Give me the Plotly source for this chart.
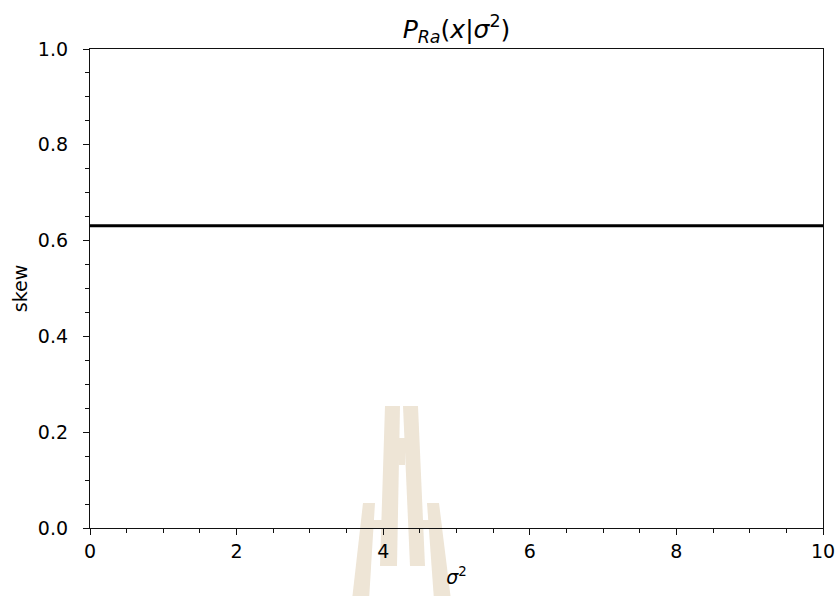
import plotly.graph_objects as go

# ---- data ----
sigma2 = [0.0, 2.0, 4.0, 6.0, 8.0, 10.0]
skew = [0.631, 0.631, 0.631, 0.631, 0.631, 0.631]
x_ticks = [0, 2, 4, 6, 8, 10]
y_ticks = [0.0, 0.2, 0.4, 0.6, 0.8, 1.0]

W, H = 839, 596
L, R, T, B = 90, 16, 49, 68
PW, PH = W - L - R, H - T - B

def px(x):
    return (x - L) / PW

def py(y):
    return (H - B - y) / PH

# decorative watermark polygons (pixel coords)
wm_polys = [
    [(385, 406), (400, 406), (397, 566), (380, 566)],
    [(403, 406), (418, 406), (425, 566), (410, 566)],
    [(399, 438), (405, 438), (405, 465), (399, 465)],
    [(363, 503), (375, 503), (369, 600), (352, 600)],
    [(427, 503), (439, 503), (451, 600), (434, 600)],
    [(373, 520), (386, 520), (386, 529), (373, 529)],
    [(419, 520), (429, 520), (429, 529), (419, 529)],
]

shapes = []
for poly in wm_polys:
    path = "M " + " L ".join(f"{px(x):.5f},{py(y):.5f}" for x, y in poly) + " Z"
    shapes.append(dict(type="path", path=path, xref="paper", yref="paper",
                       fillcolor="#EEE5D6", line=dict(width=0), layer="below"))

fig = go.Figure()
fig.add_trace(go.Scatter(x=sigma2, y=skew, mode="lines",
                         line=dict(color="black", width=2.8),
                         showlegend=False, hoverinfo="skip"))

font = "DejaVu Sans"
axis_common = dict(
    showgrid=False, zeroline=False, showline=True, mirror=True,
    linecolor="#111111", linewidth=1.3,
    ticks="outside", ticklen=6, tickwidth=1.3, tickcolor="#111111",
    tickfont=dict(family=font, size=19, color="black"),
    automargin=False,
)

fig.update_layout(
    width=W, height=H,
    margin=dict(l=L, r=R, t=T, b=B, autoexpand=False),
    paper_bgcolor="white", plot_bgcolor="rgba(0,0,0,0)",
    shapes=shapes,
    title=dict(text="<i>P</i><sub><i>Ra</i></sub>(<i>x</i>|<i>σ</i><sup>2</sup>)",
               x=(L + PW / 2) / W, xanchor="center", y=1 - 29 / H, yanchor="middle",
               font=dict(family=font, size=25, color="black")),
    xaxis=dict(range=[0, 10], tickvals=x_ticks, ticktext=[str(v) for v in x_ticks],
               minor=dict(dtick=0.5, ticks="outside", ticklen=3.5, tickwidth=1, tickcolor="#111111"),
               title=dict(text="<i>σ</i><sup>2</sup>", standoff=9,
                          font=dict(family=font, size=19, color="black")),
               **axis_common),
    yaxis=dict(range=[0, 1], tickvals=y_ticks, ticktext=[f"{v:.1f}" for v in y_ticks],
               minor=dict(dtick=0.05, ticks="outside", ticklen=3.5, tickwidth=1, tickcolor="#111111"),
               ticklabelstandoff=11,
               title=dict(text="skew", standoff=5,
                          font=dict(family=font, size=19, color="black")),
               **axis_common),
)

fig.write_html("out.html")
